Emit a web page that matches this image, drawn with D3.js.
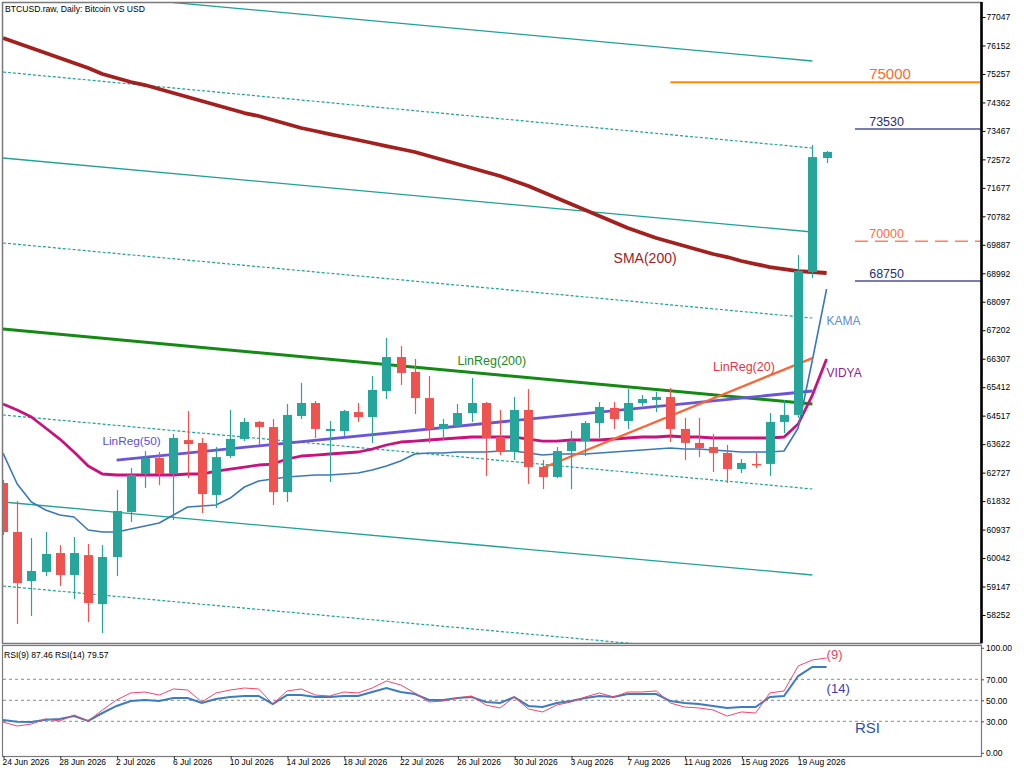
<!DOCTYPE html>
<html>
<head>
<meta charset="utf-8">
<script src="https://cdn.jsdelivr.net/npm/d3@7"></script>
<style>
  body { margin: 0; background: #fff; }
  text { font-family: "Liberation Sans", Arial, sans-serif; }
</style>
</head>
<body>
<div id="wrapper"></div>
<script>
// ---- data (daily bars from 24 Jun 2026) ----
const startDate = "2026-06-24"

const open = [62400,60860,59320,59605,60200,59510,60135,58595,60075,61490,
              62685,63185,62685,63750,63660,62025,63250,63785,64320,64160,
              62115,64505,64915,64035,64035,64630,64475,65290,66360,65890,
              65070,64100,64190,64600,64915,63845,63405,64695,62905,62590,
              63405,63720,64285,64760,64350,64915,65010,65105,64100,63660,
              63530,63345,62840,63000,63000,64320,64540,69030,72615]
const high = [62495,61835,60670,60860,60450,60705,60485,60450,62180,62870,
              63405,63375,63940,64665,63815,63530,64695,64445,64350,64410,
              64885,65545,64980,64350,64695,64915,65765,66960,66705,66300,
              65765,64410,64885,65700,64945,64695,65105,65355,63125,63530,
              64035,64350,64945,64945,65355,65165,65260,65385,64445,64445,
              63940,63595,63155,63345,64600,65010,69565,73025,72835]
const low = [60765,57970,58220,59475,59165,58755,58030,57685,59475,61175,
             62245,62335,61235,62555,61455,61615,63185,63720,63595,61710,
             61805,64410,63815,62430,63880,64320,63660,65040,65480,64570,
             63660,63750,64160,64320,62620,63280,63125,62370,62210,62555,
             62210,63250,63815,64100,64100,64820,64630,63690,63125,63215,
             62745,62400,62715,62870,62620,63970,64445,68845,72460]
const close = [60860,59255,59635,60170,59510,60200,58630,60075,61520,62650,
               63185,62685,63815,63625,62055,63215,63785,64320,64160,62115,
               64540,64915,64100,64100,64665,64475,65325,66360,65860,65070,
               64100,64255,64600,64915,63815,63375,64695,62905,62590,63405,
               63720,64285,64790,64410,64915,65040,65105,64100,63660,63500,
               63345,62840,63030,62965,64320,64540,69065,72645,72805]

const sma200 = [76387,76230,76072,75915,75758,75601,75444,75255,75129,75004,
                74909,74784,74658,74532,74407,74281,74155,74029,73935,73809,
                73684,73558,73464,73369,73275,73181,73087,72992,72898,72804,
                72678,72552,72426,72301,72175,72049,71892,71735,71546,71358,
                71169,70981,70792,70604,70415,70258,70101,69975,69849,69723,
                69598,69503,69378,69283,69189,69126,69063,69032,69001]
const vidya = [64883,64695,64475,64129,63783,63375,62935,62683,62652,62652,
               62652,62652,62652,62683,62683,62777,62840,62903,62966,62997,
               63155,63249,63280,63312,63343,63375,63469,63595,63689,63720,
               63752,63783,63815,63846,63846,63846,63846,63783,63720,63720,
               63752,63752,63752,63783,63815,63846,63846,63878,63846,63846,
               63815,63815,63815,63815,63815,63846,64255,65166,66298]
const kama = [63343,62369,61803,61552,61395,61332,60923,60860,60860,60955,
              61049,61143,61395,61646,61677,61709,61929,62275,62463,62526,
              62589,62620,62652,62652,62683,62715,62809,62935,63092,63312,
              63343,63343,63375,63375,63375,63406,63406,63343,63280,63312,
              63312,63312,63343,63375,63406,63437,63469,63500,63469,63469,
              63437,63406,63375,63375,63375,63406,64129,66266,68498]

// regression channel, bar 0 -> bar 57
const channelFrom = 0
const channelTo = 57
const channelMidStart = [77990, 72615, 61803]
const channelMidEnd = [75664, 70289, 59509]
const channelDevStart = [75318, 69944, 64538, 59163]
const channelDevEnd = [72929, 67586, 62212, 56837]

// linear regression lines: [fromBar, toBar, startValue, endValue]
const linReg200 = [0, 57, 67241, 64883]
const linReg50 = [8, 57, 63123, 65292]
const linReg20 = [38, 57, 62872, 66329]

// horizontal levels and the bar they start from
const levelValues = [75000, 73530, 70000, 68750]
const levelFromBar = [47, 60, 60, 60]

const rsi9 = [29.3,25.5,27.4,32.2,30.3,36,30.3,40.8,50.3,57,
              57.9,55,60.8,59.8,48.4,57,59.8,61.7,60.8,46.5,
              58.9,60.8,55,54.1,57.9,57,61.7,68.4,64.6,57,
              48.4,49.3,52.2,54.1,45.5,42.7,53.1,41.7,38.9,45.5,
              48.4,53.1,57,53.1,57.9,57.9,58.9,47.4,43.6,42.7,
              40.8,35,38.9,37.9,57,58.9,82.7,88.4,90.3]
const rsi14 = [31.2,29.5,29.3,31.5,32.2,35,30.3,37.9,44.6,49.3,
               50.3,49.3,52.2,52.2,47.4,51.2,53.1,54.1,54.1,46.5,
               55,55,53.1,53.1,54.1,54.1,57.9,61.7,57.9,56,
               50.3,50.3,52.2,53.1,48.4,47.4,53.1,44.6,43.6,47.4,
               49.3,52.2,54.1,53.1,56,56,56,49.3,47.4,46.5,
               44.6,42.7,43.6,43.6,53.1,54.1,73.1,81.7,81.7]

const priceTicks = [58252,59147,60042,60937,61832,62727,63622,64517,65412,66307,67202,
                    68097,68992,69887,70782,71677,72572,73467,74362,75257,76152,77047]
const rsiTicks = [0, 30, 50, 70, 100]
const rsiLevels = [30, 50, 70]
const xTickBars = [0,4,8,12,16,20,24,28,32,36,40,44,48,52,56]
const xTickLabels = ["24 Jun 2026","28 Jun 2026","2 Jul 2026","6 Jul 2026","10 Jul 2026",
                     "14 Jul 2026","18 Jul 2026","22 Jul 2026","26 Jul 2026","30 Jul 2026",
                     "3 Aug 2026","7 Aug 2026","11 Aug 2026","15 Aug 2026","19 Aug 2026"]

function drawChart() {

  const parseDate = d3.utcParse("%Y-%m-%d")
  const day0 = parseDate(startDate)
  const barDate = i => d3.utcDay.offset(day0, i)
  const dates = d3.range(open.length).map(barDate)

  const candles = dates.map((d, i) => ({
    date: d, o: open[i], h: high[i], l: low[i], c: close[i]
  }))

  // 1. dimensions
  const dims = {
    width: 1024, height: 773,
    left: 3, right: 981,
    top: 3, bottom: 643,
    rsiTop: 646, rsiBottom: 756,
  }

  const svg = d3.select("#wrapper").append("svg")
      .attr("width", dims.width)
      .attr("height", dims.height)
      .style("display", "block")

  svg.append("rect").attr("width", dims.width).attr("height", dims.height).attr("fill", "#fff")

  const defs = svg.append("defs")
  defs.append("clipPath").attr("id", "mainClip").append("rect")
      .attr("x", dims.left).attr("y", dims.top)
      .attr("width", dims.right - dims.left).attr("height", dims.bottom - dims.top)
  defs.append("clipPath").attr("id", "rsiClip").append("rect")
      .attr("x", dims.left).attr("y", dims.rsiTop)
      .attr("width", dims.right - dims.left).attr("height", dims.rsiBottom - dims.rsiTop)

  // 2. scales
  const xScale = d3.scaleUtc()
    .domain([dates[0], dates[dates.length - 1]])
    .range([3, 826.6])

  const yScale = d3.scaleLinear()
    .domain([58252, 77047])
    .range([615, 17])

  const rsiScale = d3.scaleLinear()
    .domain([0, 100])
    .range([752.8, 647.8])

  const xBar = i => xScale(barDate(i))

  // 3. main panel
  const main = svg.append("g").attr("clip-path", "url(#mainClip)")

  const segment = (b0, b1, v0, v1) =>
    d3.line()([[xBar(b0), yScale(v0)], [xBar(b1), yScale(v1)]])

  const teal = "#1fa196"
  channelMidStart.forEach((v, i) => {
    main.append("path")
        .attr("d", segment(channelFrom, channelTo, v, channelMidEnd[i]))
        .attr("fill", "none").attr("stroke", teal).attr("stroke-width", 1.3)
  })
  channelDevStart.forEach((v, i) => {
    main.append("path")
        .attr("d", segment(channelFrom, channelTo, v, channelDevEnd[i]))
        .attr("fill", "none").attr("stroke", teal).attr("stroke-width", 1.2)
        .attr("stroke-dasharray", "3,2")
  })

  const seriesLine = d3.line()
    .x((d, i) => xScale(dates[i]))
    .y(d => yScale(d))

  main.append("path").attr("d", seriesLine(sma200))
      .attr("fill", "none").attr("stroke", "#a3201f").attr("stroke-width", 3.8)
      .attr("stroke-linejoin", "round")

  main.append("path").attr("d", segment(...linReg200))
      .attr("fill", "none").attr("stroke", "#138a13").attr("stroke-width", 3)
  main.append("path").attr("d", segment(...linReg50))
      .attr("fill", "none").attr("stroke", "#6a55d6").attr("stroke-width", 2.8)
  main.append("path").attr("d", seriesLine(vidya))
      .attr("fill", "none").attr("stroke", "#c8127e").attr("stroke-width", 2.8)
      .attr("stroke-linejoin", "round")
  main.append("path").attr("d", seriesLine(kama))
      .attr("fill", "none").attr("stroke", "#3a78b8").attr("stroke-width", 1.6)
      .attr("stroke-linejoin", "round")
  main.append("path").attr("d", segment(...linReg20))
      .attr("fill", "none").attr("stroke", "#ff6433").attr("stroke-width", 2.4)

  // candles
  const up = "#26a69a", down = "#ef5350"
  const bars = main.append("g").selectAll("g").data(candles).join("g")
  bars.append("line")
      .attr("x1", d => Math.round(xScale(d.date)) + 0.5)
      .attr("x2", d => Math.round(xScale(d.date)) + 0.5)
      .attr("y1", d => yScale(d.h))
      .attr("y2", d => yScale(d.l))
      .attr("stroke", d => d.c >= d.o ? up : down)
      .attr("stroke-width", 1.2)
  bars.append("rect")
      .attr("x", d => Math.round(xScale(d.date)) - 4)
      .attr("width", 9)
      .attr("y", d => yScale(Math.max(d.o, d.c)))
      .attr("height", d => Math.max(1.5, Math.abs(yScale(d.o) - yScale(d.c))))
      .attr("fill", d => d.c >= d.o ? up : down)

  // horizontal levels
  const levelColor = ["#ff8a00", "#50508f", "#ff8060", "#50508f"]
  const levelText = ["#ff6a26", "#2c2c72", "#ff6a33", "#2c2c72"]
  const levelFont = [15, 12.5, 12.5, 12.5]
  levelValues.forEach((v, i) => {
    main.append("line")
        .attr("x1", xBar(levelFromBar[i])).attr("x2", dims.right)
        .attr("y1", yScale(v)).attr("y2", yScale(v))
        .attr("stroke", levelColor[i])
        .attr("stroke-width", i === 0 ? 2 : 1.5)
        .attr("stroke-dasharray", i === 2 ? "13,7" : null)
    svg.append("text")
        .attr("x", xBar(61)).attr("y", yScale(v) - 3)
        .attr("fill", levelText[i]).attr("font-size", levelFont[i])
        .text(v)
  })

  // indicator labels
  const labels = [
    { text: "SMA(200)", bar: 43, price: 69315, color: "#a3201f", size: 14 },
    { text: "KAMA", bar: 58, price: 67366, color: "#5b8dcf", size: 12 },
    { text: "VIDYA", bar: 58, price: 65732, color: "#8e1c8e", size: 12 },
    { text: "LinReg(20)", bar: 50, price: 65920, color: "#e0354a", size: 12.5 },
    { text: "LinReg(200)", bar: 32, price: 66109, color: "#218a21", size: 12.5 },
    { text: "LinReg(50)", bar: 7, price: 63595, color: "#5a4fd0", size: 11.8 },
  ]
  labels.forEach(l => {
    svg.append("text")
        .attr("x", xBar(l.bar)).attr("y", yScale(l.price))
        .attr("fill", l.color).attr("font-size", l.size)
        .text(l.text)
  })

  // frame
  svg.append("rect")
      .attr("x", dims.left - 0.5).attr("y", dims.top - 0.5)
      .attr("width", dims.right - dims.left + 1).attr("height", dims.bottom - dims.top + 1)
      .attr("fill", "none").attr("stroke", "#7a7a7a").attr("stroke-width", 1.5)
  svg.append("line")
      .attr("x1", dims.right + 0.5).attr("x2", dims.right + 0.5)
      .attr("y1", dims.top - 1).attr("y2", dims.bottom)
      .attr("stroke", "#000").attr("stroke-width", 2.6)

  // price axis
  const yAxisGenerator = d3.axisRight(yScale)
    .tickValues(priceTicks)
    .tickSize(3)
    .tickSizeOuter(0)
    .tickFormat(d3.format("d"))
  const yAxis = svg.append("g")
      .attr("transform", `translate(${dims.right + 1.5},0)`)
      .call(yAxisGenerator)
  yAxis.select(".domain").remove()
  yAxis.selectAll("text").attr("font-size", 8.5).attr("x", 4)
      .attr("font-family", "Liberation Sans, Arial, sans-serif").attr("fill", "#000")

  svg.append("text")
      .attr("x", 5).attr("y", 12)
      .attr("font-size", 8.6).attr("fill", "#000")
      .text("BTCUSD.raw, Daily:  Bitcoin VS USD")

  // 4. RSI panel
  svg.append("rect")
      .attr("x", dims.left - 0.5).attr("y", dims.rsiTop - 0.5)
      .attr("width", dims.right - dims.left + 1).attr("height", dims.rsiBottom - dims.rsiTop + 1)
      .attr("fill", "none").attr("stroke", "#7a7a7a").attr("stroke-width", 1.2)

  const rsiG = svg.append("g").attr("clip-path", "url(#rsiClip)")
  rsiLevels.forEach(v => {
    rsiG.append("line")
        .attr("x1", dims.left).attr("x2", dims.right)
        .attr("y1", rsiScale(v)).attr("y2", rsiScale(v))
        .attr("stroke", "#8a8a8a").attr("stroke-dasharray", "3,3")
  })

  const rsiLine = d3.line()
    .x((d, i) => xScale(dates[i]))
    .y(d => rsiScale(d))
  rsiG.append("path").attr("d", rsiLine(rsi14))
      .attr("fill", "none").attr("stroke", "#3d7cbd").attr("stroke-width", 2)
  rsiG.append("path").attr("d", rsiLine(rsi9))
      .attr("fill", "none").attr("stroke", "#f2466a").attr("stroke-width", 1)

  const rsiAxis = svg.append("g")
      .attr("transform", `translate(${dims.right},0)`)
      .call(d3.axisRight(rsiScale).tickValues(rsiTicks).tickSize(3).tickSizeOuter(0)
        .tickFormat(d3.format(".2f")))
  rsiAxis.select(".domain").remove()
  rsiAxis.selectAll("line").attr("stroke", "#555")
  rsiAxis.selectAll("text").attr("font-size", 8.5).attr("x", 5)
      .attr("font-family", "Liberation Sans, Arial, sans-serif").attr("fill", "#000")

  svg.append("text")
      .attr("x", 4).attr("y", 658)
      .attr("font-size", 8.6).attr("fill", "#000")
      .text(`RSI(9) ${rsi9Last} RSI(14) ${rsi14Last}`)

  svg.append("text").attr("x", xBar(58)).attr("y", rsiScale(89.3))
      .attr("font-size", 13).attr("fill", "#f0405a").text("(9)")
  svg.append("text").attr("x", xBar(58)).attr("y", rsiScale(57))
      .attr("font-size", 13).attr("fill", "#3c3ca8").text("(14)")
  svg.append("text").attr("x", xBar(60)).attr("y", rsiScale(18.9))
      .attr("font-size", 15).attr("fill", "#3050a0").text("RSI")

  // 5. date axis
  const xAxisGenerator = d3.axisBottom(xScale)
    .tickValues(xTickBars.map(barDate))
    .tickSize(3)
    .tickSizeOuter(0)
    .tickFormat((d, i) => xTickLabels[i])
  const xAxis = svg.append("g")
      .attr("transform", `translate(0.5,${dims.rsiBottom})`)
      .call(xAxisGenerator)
  xAxis.select(".domain").remove()
  xAxis.selectAll("line").attr("stroke", "#333")
  xAxis.selectAll("text")
      .attr("text-anchor", "start")
      .attr("x", -1.5)
      .attr("y", 3)
      .attr("font-size", 8.5)
      .attr("font-family", "Liberation Sans, Arial, sans-serif")
      .attr("fill", "#000")
}

const rsi9Last = "87.46"
const rsi14Last = "79.57"

drawChart()
</script>
</body>
</html>
